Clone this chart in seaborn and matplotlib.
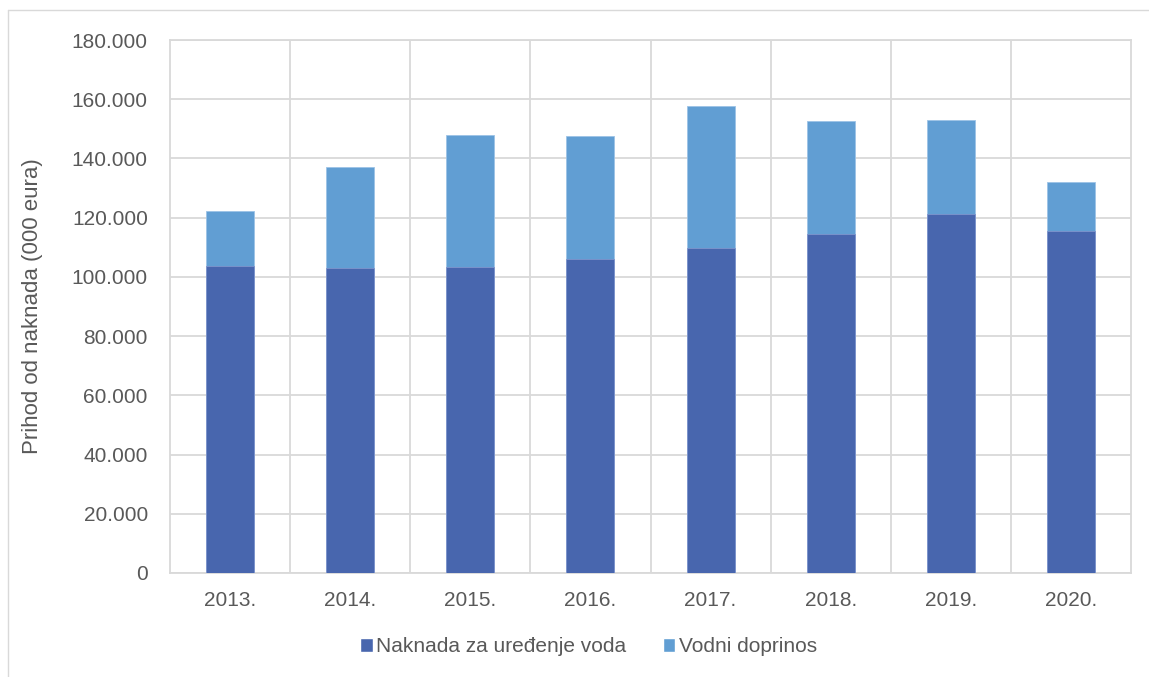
import matplotlib
matplotlib.use("Agg")
import matplotlib.pyplot as plt
from matplotlib.patches import Patch
from matplotlib.lines import Line2D
from matplotlib.ticker import FuncFormatter, MultipleLocator
import seaborn as sns
import pandas as pd

# data (000 eura)
years = ["2013.", "2014.", "2015.", "2016.", "2017.", "2018.", "2019.", "2020."]
naknada = [103.8, 103.0, 103.5, 106.0, 109.8, 114.6, 121.1, 115.6]
doprinos = [18.5, 34.1, 44.4, 41.5, 48.0, 38.2, 31.9, 16.5]
labels = ["Naknada za uređenje voda", "Vodni doprinos"]

dark = "#4866AE"
light = "#619ED3"
grid = "#D9D9D9"
text = "#595959"

df = pd.DataFrame({"year": years,
                   "naknada": [v * 1000 for v in naknada],
                   "doprinos": [v * 1000 for v in doprinos]})
df["total"] = df["naknada"] + df["doprinos"]

sns.set_style("white")
plt.rcParams["font.family"] = ["Liberation Sans", "DejaVu Sans"]
plt.rcParams["font.size"] = 15

fig = plt.figure(figsize=(11.49, 6.77), dpi=100)
ax = fig.add_axes([170 / 1149, 1 - 573 / 677, (1131 - 170) / 1149, (573 - 40) / 677])

# stacked: total (light) first, then the lower segment on top of it
sns.barplot(data=df, x="year", y="total", color=light, saturation=1, width=0.4,
            edgecolor="#9CC3E6", linewidth=0.6, ax=ax, zorder=3)
sns.barplot(data=df, x="year", y="naknada", color=dark, saturation=1, width=0.4,
            edgecolor="#7F95CC", linewidth=0.6, ax=ax, zorder=4)

ax.set_xlim(-0.5, len(years) - 0.5)
ax.set_ylim(0, 180000)
ax.yaxis.set_major_locator(MultipleLocator(20000))
ax.yaxis.set_major_formatter(FuncFormatter(lambda v, p: f"{int(v):,}".replace(",", ".")))

# vertical grid lines between categories
ax.set_xticks([i + 0.5 for i in range(len(years) - 1)], minor=True)
ax.grid(axis="y", which="major", color=grid, linewidth=1.3, zorder=0)
ax.grid(axis="x", which="minor", color=grid, linewidth=1.3, zorder=0)
ax.set_axisbelow(True)
for s in ax.spines.values():
    s.set_color(grid)
    s.set_linewidth(1.3)

ax.tick_params(axis="both", which="both", length=0, colors=text, labelsize=15)
ax.tick_params(axis="y", pad=16)
ax.tick_params(axis="x", pad=13)
ax.set_xlabel("")
ax.set_ylabel("Prihod od naknada (000 eura)", color=text, fontsize=16)
ax.yaxis.set_label_coords((33 - 170) / 961, 0.5)
ax.yaxis.label.set_verticalalignment("center")

handles = [Patch(facecolor=dark, label=labels[0]), Patch(facecolor=light, label=labels[1])]
leg = fig.legend(handles=handles, loc="center", bbox_to_anchor=(0.512, 1 - 647 / 677),
                 ncol=2, frameon=False, handlelength=0.62, handleheight=0.62,
                 handletextpad=0.15, columnspacing=1.75, fontsize=15)
for t in leg.get_texts():
    t.set_color(text)

# thin outer frame of the original chart area
fig.add_artist(Line2D([8 / 1149, 1.0], [1 - 10 / 677, 1 - 10 / 677], color=grid, linewidth=1))
fig.add_artist(Line2D([8 / 1149, 8 / 1149], [0.0, 1 - 10 / 677], color=grid, linewidth=1))

fig.savefig("out.png", dpi=100)
